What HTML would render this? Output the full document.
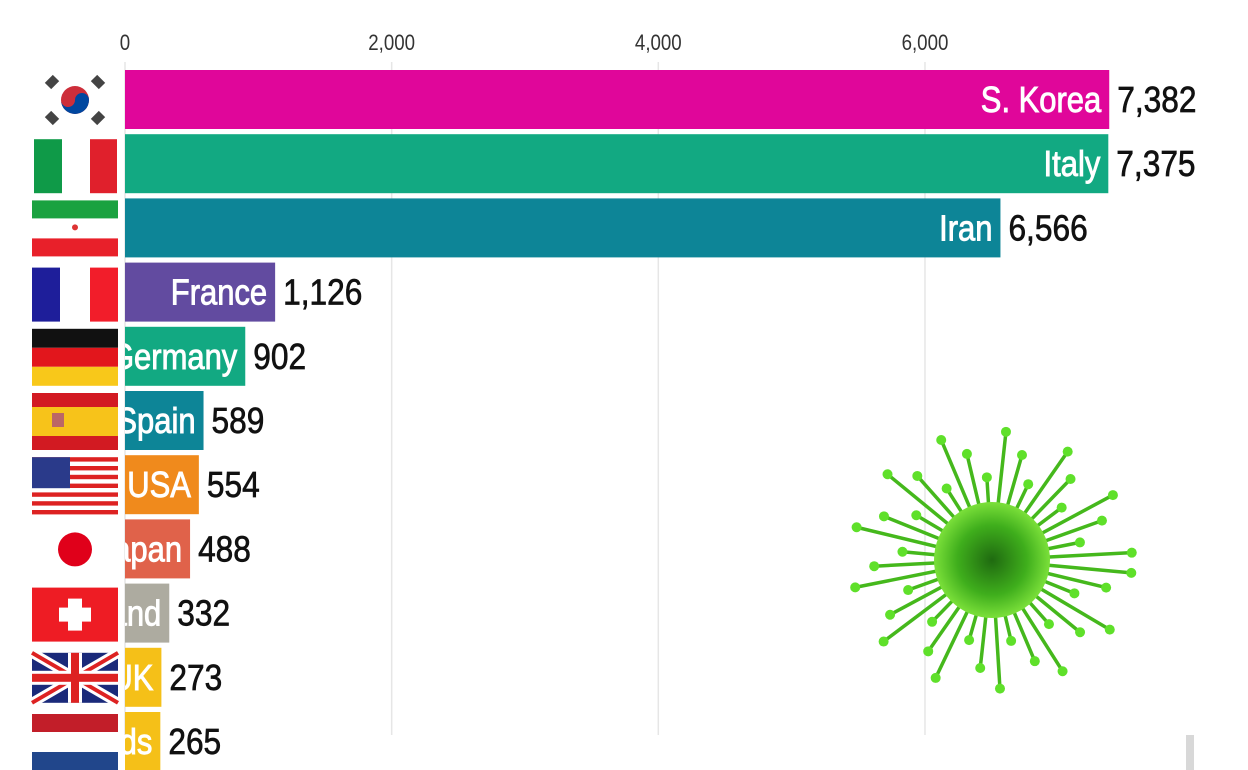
<!DOCTYPE html>
<html><head><meta charset="utf-8"><style>
html,body{margin:0;padding:0;background:#fff;}
svg{display:block;font-family:"Liberation Sans",sans-serif;}
</style></head><body>
<svg id="chart" width="1248" height="770" viewBox="0 0 1248 770">
<defs>
<clipPath id="plotclip"><rect x="125" y="0" width="1123" height="770"/></clipPath>
<radialGradient id="vg" cx="50%" cy="50%" r="50%"><stop offset="0" stop-color="#1f6a10"/><stop offset="0.6" stop-color="#3fae1c"/><stop offset="1" stop-color="#7be03a"/></radialGradient>
</defs>
<g id="grid"></g>
<g id="bars" clip-path="url(#plotclip)"></g>
<g id="values"></g>
<g id="flags"></g>
<g id="virus"></g>
<rect x="1186" y="735" width="8" height="35" fill="#d8d8d8"/>
</svg>
<script>
const categories=["S. Korea","Italy","Iran","France","Germany","Spain","USA","Japan","Switzerland","UK","Netherlands"];
const values=[7382,7375,6566,1126,902,589,554,488,332,273,265];
const colors=["#e0069a","#12a982","#0d8597","#624ba0","#12a982","#0d8597","#f08a1c","#e0624a","#adaba0","#f5c018","#f5c018"];
const ticks=[0,2000,4000,6000];
const NS="http://www.w3.org/2000/svg";
const x0=125,pxPer=0.13333;
const xs=v=>x0+v*pxPer;
const yTop=i=>70+i*64.2;
const bh=59;
function mk(tag,attrs,parent){const e=document.createElementNS(NS,tag);for(const k in attrs)e.setAttribute(k,attrs[k]);parent.appendChild(e);return e;}
const grid=document.getElementById('grid'),bars=document.getElementById('bars'),vals=document.getElementById('values'),flags=document.getElementById('flags');
ticks.forEach(t=>{
  const l=mk('line',{x1:xs(t),x2:xs(t),y1:62,y2:735,stroke:'#e6e6e6','stroke-width':1.5},grid);
  
  
  const tx=mk('text',{'text-anchor':'middle','font-size':22,fill:'#333',transform:`translate(${xs(t)},50) scale(0.85,1)`},grid);
  tx.textContent=t.toLocaleString('en-US');
  
  
});
categories.forEach((c,i)=>{
  const y=yTop(i),xe=xs(values[i]);
  const r=mk('rect',{x:x0,y:y,width:xe-x0,height:bh,fill:colors[i]},bars);
  
  
  const lb=mk('text',{'text-anchor':'end','font-size':36,fill:'#fff',stroke:'#fff','stroke-width':0.9,transform:`translate(${xe-8},${y+42}) scale(0.86,1)`},bars);
  lb.textContent=c;
  
  
  const vt=mk('text',{'font-size':36,fill:'#111',stroke:'#111','stroke-width':0.7,transform:`translate(${xe+8},${y+42}) scale(0.88,1)`},vals);
  vt.textContent=values[i].toLocaleString('en-US');
  
  
});
const F=(i,svg)=>{const g=mk('g',{transform:`translate(32,${yTop(i)+2})`},flags);g.innerHTML=svg;};
F(0,'<circle cx="43" cy="28" r="14" fill="#cd2e3a"/><path d="M29 28a14 14 0 0 0 28 0a7 7 0 0 0-14 0a7 7 0 0 1-14 0z" fill="#0047a0"/><g stroke="#444" stroke-width="9"><line x1="16" y1="14" x2="24" y2="6"/><line x1="62" y1="6" x2="70" y2="14"/><line x1="16" y1="42" x2="24" y2="50"/><line x1="62" y1="50" x2="70" y2="42"/></g>');
F(1,'<rect x="2" y="3" width="28" height="54" fill="#0f9a48"/><rect x="30" y="3" width="28" height="54" fill="#fff"/><rect x="58" y="3" width="27" height="54" fill="#e0202c"/>');
F(2,'<rect x="0" y="0" width="86" height="18" fill="#1aa240"/><rect x="0" y="38" width="86" height="18" fill="#e8202a"/><circle cx="43" cy="27" r="3" fill="#d33"/>');
F(3,'<rect x="0" y="3" width="28" height="54" fill="#1e1e9a"/><rect x="28" y="3" width="30" height="54" fill="#fff"/><rect x="58" y="3" width="28" height="54" fill="#f21d2a"/>');
F(4,'<rect x="0" y="0" width="86" height="19" fill="#111"/><rect x="0" y="19" width="86" height="19" fill="#e2161c"/><rect x="0" y="38" width="86" height="19" fill="#f8c81a"/>');
F(5,'<rect x="0" y="0" width="86" height="14" fill="#d21a22"/><rect x="0" y="14" width="86" height="29" fill="#f7c31a"/><rect x="0" y="43" width="86" height="14" fill="#d21a22"/><rect x="20" y="20" width="12" height="14" fill="#b66"/>');
F(6,'<rect x="0" y="0" width="86" height="57" fill="#fff"/>'+[0,2,4,6,8,10,12].map(k=>`<rect x="0" y="${k*4.4}" width="86" height="4.4" fill="#d22"/>`).join('')+'<rect x="0" y="0" width="38" height="31" fill="#2a3a8a"/>');
F(7,'<circle cx="43" cy="28" r="17" fill="#e0001a"/>');
F(8,'<rect x="0" y="2" width="86" height="54" fill="#ee1c24"/><rect x="36" y="13" width="14" height="32" fill="#fff"/><rect x="27" y="22" width="32" height="14" fill="#fff"/>');
F(9,'<rect x="0" y="3" width="86" height="50" fill="#1a2a7a"/><path d="M0 3L86 53M86 3L0 53" stroke="#fff" stroke-width="10"/><path d="M0 3L86 53M86 3L0 53" stroke="#d22" stroke-width="4"/><rect x="36" y="3" width="14" height="50" fill="#fff"/><rect x="0" y="21" width="86" height="14" fill="#fff"/><rect x="39" y="3" width="8" height="50" fill="#d22"/><rect x="0" y="24" width="86" height="8" fill="#d22"/>');
F(10,'<rect x="0" y="0" width="86" height="18" fill="#c21e29"/><rect x="0" y="18" width="86" height="20" fill="#fff"/><rect x="0" y="38" width="86" height="20" fill="#21468b"/>');
const vg=document.getElementById('virus');const cx=992,cy=560;let s='';
for(let k=0;k<40;k++){const a=k*2*Math.PI/40+0.1;const L=(k%3==0?140:k%3==1?118:90);const x2=cx+Math.cos(a)*L,y2=cy+Math.sin(a)*L*0.92;
s+=`<line x1="${cx}" y1="${cy}" x2="${x2}" y2="${y2}" stroke="#45b81c" stroke-width="3.5"/><circle cx="${x2}" cy="${y2}" r="5" fill="#5fe02a"/>`;}
s+=`<circle cx="${cx}" cy="${cy}" r="58" fill="url(#vg)"/>`;
vg.innerHTML=s;
</script>
</body></html>
